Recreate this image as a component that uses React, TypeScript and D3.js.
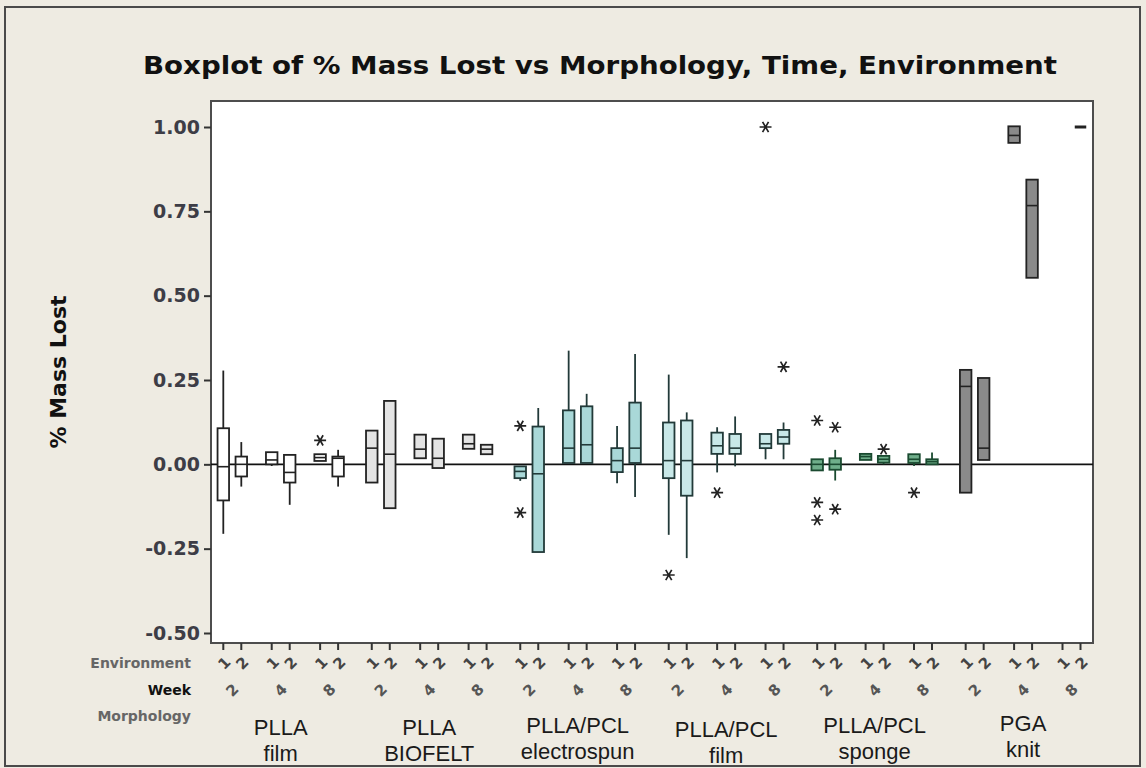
import * as d3 from "d3";
import { useEffect, useRef } from "react";

const morphologies = [
  ["PLLA", "film"],
  ["PLLA", "BIOFELT"],
  ["PLLA/PCL", "electrospun"],
  ["PLLA/PCL", "film"],
  ["PLLA/PCL", "sponge"],
  ["PGA", "knit"],
];
const weeks = ["2", "4", "8"];
const environments = ["1", "2"];
const yTicks = [-0.5, -0.25, 0, 0.25, 0.5, 0.75, 1.0];

// one entry per Morphology x Week x Environment cell (null = no data)
const q1 = [
  -0.107, -0.036, 0.0, -0.054, 0.01, -0.036,
  -0.054, -0.13, 0.018, -0.011, 0.046, 0.03,
  -0.041, -0.26, 0.004, 0.004, -0.023, 0.004,
  -0.041, -0.093, 0.031, 0.031, 0.048, 0.061,
  -0.018, -0.016, 0.013, 0.005, 0.004, 0.0,
  -0.084, 0.013, 0.953, 0.553, null, 1.0,
];
const medians = [
  -0.007, 0.0, 0.013, -0.024, 0.02, 0.018,
  0.048, 0.03, 0.045, 0.018, 0.061, 0.045,
  -0.021, -0.028, 0.048, 0.058, 0.011, 0.048,
  0.011, 0.011, 0.055, 0.048, 0.061, 0.081,
  0.0, 0.0, 0.023, 0.015, 0.015, 0.008,
  0.231, 0.048, 0.975, 0.767, null, 1.0,
];
const q3 = [
  0.107, 0.023, 0.036, 0.028, 0.03, 0.023,
  0.1, 0.188, 0.088, 0.076, 0.088, 0.058,
  -0.006, 0.112, 0.16, 0.172, 0.048, 0.183,
  0.124, 0.13, 0.094, 0.09, 0.09, 0.102,
  0.015, 0.018, 0.031, 0.025, 0.03, 0.015,
  0.28, 0.256, 1.002, 0.844, null, 1.0,
];
const whiskerLow = [
  -0.206, -0.066, -0.005, -0.12, 0.01, -0.066,
  -0.054, -0.13, 0.018, -0.011, 0.046, 0.03,
  -0.049, -0.26, 0.004, 0.004, -0.056, -0.097,
  -0.209, -0.278, -0.024, -0.006, 0.015, 0.015,
  -0.018, -0.048, 0.013, 0.0, -0.005, 0.0,
  -0.084, 0.013, 0.953, 0.553, null, 1.0,
];
const whiskerHigh = [
  0.278, 0.066, 0.036, 0.028, 0.03, 0.043,
  0.1, 0.188, 0.088, 0.076, 0.088, 0.058,
  -0.006, 0.167, 0.337, 0.209, 0.114, 0.327,
  0.266, 0.154, 0.11, 0.142, 0.09, 0.124,
  0.015, 0.043, 0.031, 0.025, 0.03, 0.035,
  0.28, 0.256, 1.002, 0.844, null, 1.0,
];
const outliers = [
  [], [], [], [], [0.071], [],
  [], [], [], [], [], [],
  [0.114, -0.143], [], [], [], [], [],
  [-0.328], [], [-0.084], [], [1.0], [0.289],
  [0.13, -0.113, -0.165], [0.11, -0.133], [], [0.045], [-0.084], [],
  [], [], [], [], [], [],
];

const morphFill = ["#ffffff", "#e4e4e4", "#a9d8d8", "#c8e8e8", "#6fae8a", "#8a8a8a"];
const morphStroke = ["#222", "#222", "#223a39", "#223a39", "#1a4a30", "#222"];
const morphLabelDy = [0, 0, -2, 2, -2, -4];

function App() {
  const ref = useRef(null);
  const W = 1146;
  const H = 768;

  useEffect(() => {
    const svg = d3.select(ref.current);
    svg.selectAll("*").remove();

    const plot = { left: 211, right: 1093, top: 101, bottom: 643 };

    // position of a cell in "environment steps"
    const WEEK_STEP = 2.69;
    const MORPH_STEP = 8.25;
    const slot = (m, w, e) => m * MORPH_STEP + w * WEEK_STEP + e;
    const x = d3
      .scaleLinear()
      .domain([0, slot(5, 2, 1)])
      .range([223.3, 1080.5]);

    const y = d3.scaleLinear().domain([-0.5, 1.0]).range([633, 127]);

    svg.append("rect").attr("width", W).attr("height", H).attr("fill", "#eeebe2");
    svg
      .append("rect")
      .attr("x", 5)
      .attr("y", 7)
      .attr("width", 1135)
      .attr("height", 759)
      .attr("fill", "none")
      .attr("stroke", "#4a4a4a")
      .attr("stroke-width", 2);

    svg
      .append("text")
      .attr("x", 600)
      .attr("y", 74)
      .attr("text-anchor", "middle")
      .attr("font-family", "DejaVu Sans, Verdana, sans-serif")
      .attr("font-weight", "bold")
      .attr("font-size", 25)
      .attr("textLength", 914)
      .attr("lengthAdjust", "spacingAndGlyphs")
      .attr("fill", "#111")
      .text("Boxplot of % Mass Lost vs Morphology, Time, Environment");

    svg
      .append("rect")
      .attr("x", plot.left)
      .attr("y", plot.top)
      .attr("width", plot.right - plot.left)
      .attr("height", plot.bottom - plot.top)
      .attr("fill", "#ffffff")
      .attr("stroke", "#4d4d4d")
      .attr("stroke-width", 2);

    // y axis
    const yAxis = svg
      .append("g")
      .attr("transform", `translate(${plot.left},0)`)
      .call(
        d3
          .axisLeft(y)
          .tickValues(yTicks)
          .tickSize(7)
          .tickPadding(4)
          .tickFormat((d) => d.toFixed(2))
      );
    yAxis.select(".domain").remove();
    yAxis.selectAll("line").attr("stroke", "#333").attr("stroke-width", 2);
    yAxis
      .selectAll("text")
      .attr("font-family", "DejaVu Sans, Verdana, sans-serif")
      .attr("font-weight", "bold")
      .attr("font-size", 19)
      .attr("fill", "#3d3d46");

    svg
      .append("text")
      .attr("transform", `translate(66,${(plot.top + plot.bottom) / 2}) rotate(-90)`)
      .attr("text-anchor", "middle")
      .attr("font-family", "DejaVu Sans, Verdana, sans-serif")
      .attr("font-weight", "bold")
      .attr("font-size", 22)
      .attr("fill", "#111")
      .text("% Mass Lost");

    // cells
    const cells = [];
    morphologies.forEach((_, m) =>
      weeks.forEach((wk, w) =>
        environments.forEach((env, e) => {
          const i = m * 6 + w * 2 + e;
          cells.push({
            m,
            w,
            e,
            env,
            wk,
            cx: x(slot(m, w, e)),
            q1: q1[i],
            med: medians[i],
            q3: q3[i],
            lo: whiskerLow[i],
            hi: whiskerHigh[i],
            out: outliers[i],
          });
        })
      )
    );

    // x ticks
    svg
      .append("g")
      .selectAll("line")
      .data(cells)
      .join("line")
      .attr("x1", (d) => d.cx)
      .attr("x2", (d) => d.cx)
      .attr("y1", plot.bottom)
      .attr("y2", plot.bottom + 7)
      .attr("stroke", "#333")
      .attr("stroke-width", 2);

    // zero reference line
    svg
      .append("line")
      .attr("x1", plot.left)
      .attr("x2", plot.right)
      .attr("y1", y(0))
      .attr("y2", y(0))
      .attr("stroke", "#111")
      .attr("stroke-width", 1.6);

    const bw = 11.5;
    const boxes = svg
      .append("g")
      .selectAll("g")
      .data(cells.filter((d) => d.q1 !== null))
      .join("g");

    boxes
      .append("line")
      .attr("x1", (d) => d.cx)
      .attr("x2", (d) => d.cx)
      .attr("y1", (d) => y(d.hi))
      .attr("y2", (d) => y(d.q3))
      .attr("stroke", (d) => morphStroke[d.m])
      .attr("stroke-width", 1.8);
    boxes
      .append("line")
      .attr("x1", (d) => d.cx)
      .attr("x2", (d) => d.cx)
      .attr("y1", (d) => y(d.q1))
      .attr("y2", (d) => y(d.lo))
      .attr("stroke", (d) => morphStroke[d.m])
      .attr("stroke-width", 1.8);
    boxes
      .filter((d) => d.q3 > d.q1)
      .append("rect")
      .attr("x", (d) => d.cx - bw / 2)
      .attr("width", bw)
      .attr("y", (d) => y(d.q3))
      .attr("height", (d) => y(d.q1) - y(d.q3))
      .attr("fill", (d) => morphFill[d.m])
      .attr("stroke", (d) => morphStroke[d.m])
      .attr("stroke-width", 1.8);
    boxes
      .append("line")
      .attr("x1", (d) => d.cx - bw / 2)
      .attr("x2", (d) => d.cx + bw / 2)
      .attr("y1", (d) => y(d.med))
      .attr("y2", (d) => y(d.med))
      .attr("stroke", (d) => morphStroke[d.m])
      .attr("stroke-width", (d) => (d.q3 > d.q1 ? 1.6 : 3));

    const star = d3.symbol(d3.symbolAsterisk, 100);
    svg
      .append("g")
      .selectAll("path")
      .data(cells.flatMap((d) => d.out.map((v) => ({ cx: d.cx, v }))))
      .join("path")
      .attr("transform", (d) => `translate(${d.cx},${y(d.v)}) rotate(90)`)
      .attr("d", star)
      .attr("fill", "none")
      .attr("stroke", "#222")
      .attr("stroke-width", 1.7);

    // category rows under the axis
    const rowFont = "DejaVu Sans, Verdana, sans-serif";
    [
      ["Environment", 668, "#666"],
      ["Week", 695, "#111"],
      ["Morphology", 721, "#666"],
    ].forEach(([label, yy, col]) => {
      svg
        .append("text")
        .attr("x", 191)
        .attr("y", yy)
        .attr("text-anchor", "end")
        .attr("font-family", rowFont)
        .attr("font-weight", "bold")
        .attr("font-size", 14)
        .attr("fill", col)
        .text(label);
    });

    svg
      .append("g")
      .selectAll("text")
      .data(cells)
      .join("text")
      .attr("transform", (d) => `translate(${d.cx + 1},${663}) rotate(-45)`)
      .attr("text-anchor", "middle")
      .attr("dy", "0.35em")
      .attr("font-family", rowFont)
      .attr("font-weight", "bold")
      .attr("font-size", 15)
      .attr("fill", "#444")
      .text((d) => d.env);

    svg
      .append("g")
      .selectAll("text")
      .data(cells.filter((d) => d.e === 0))
      .join("text")
      .attr("transform", (d) => `translate(${(d.cx + x(slot(d.m, d.w, 1))) / 2},${690}) rotate(-45)`)
      .attr("text-anchor", "middle")
      .attr("dy", "0.35em")
      .attr("font-family", rowFont)
      .attr("font-weight", "bold")
      .attr("font-size", 15)
      .attr("fill", "#555")
      .text((d) => d.wk);

    const morphText = svg
      .append("g")
      .selectAll("text")
      .data(morphologies)
      .join("text")
      .attr("text-anchor", "middle")
      .attr("font-family", "Liberation Sans, Arial, sans-serif")
      .attr("font-size", 22)
      .attr("fill", "#1a1a1a")
      .attr("transform", (d, i) => {
        const cx = (x(slot(i, 1, 0)) + x(slot(i, 1, 1))) / 2;
        return `translate(${cx},${735 + morphLabelDy[i]})`;
      });
    morphText
      .append("tspan")
      .attr("x", 0)
      .attr("y", 0)
      .text((d) => d[0]);
    morphText
      .append("tspan")
      .attr("x", 0)
      .attr("y", 26)
      .text((d) => d[1]);
  }, []);

  return (
    <svg
      ref={ref}
      width={W}
      height={H}
      style={{ position: "absolute", left: 0, top: 0 }}
    />
  );
}

export default App;
